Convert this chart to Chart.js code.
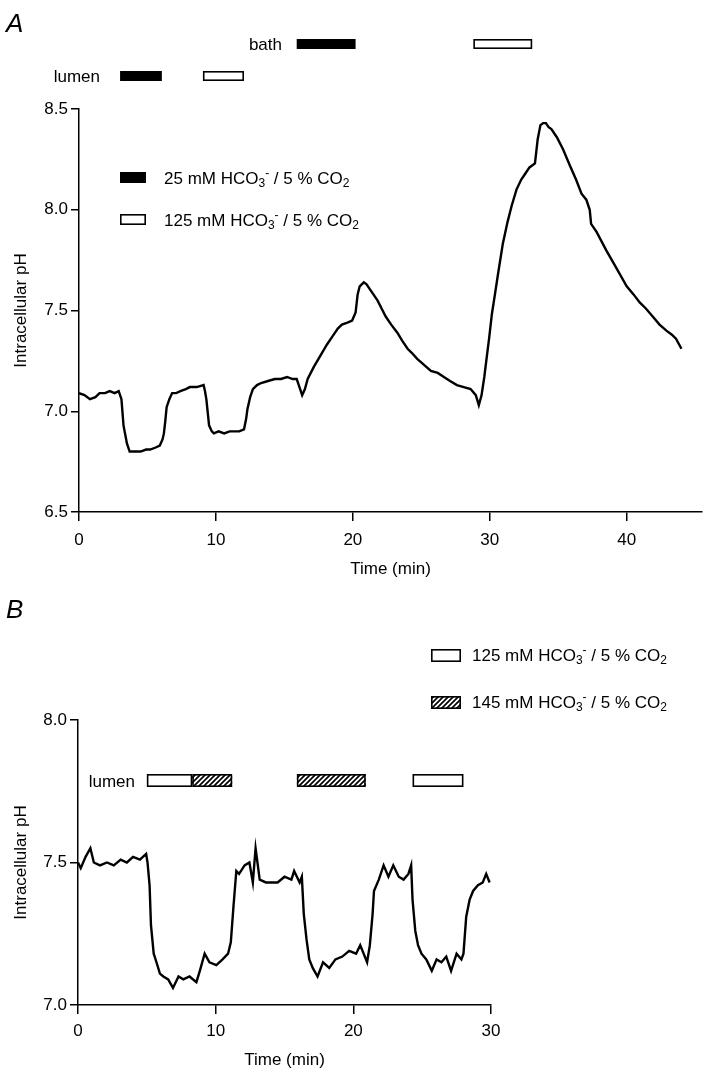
<!DOCTYPE html>
<html lang="en">
<head>
  <meta charset="UTF-8">
  <title>Intracellular pH</title>
  <script src="https://cdn.jsdelivr.net/npm/chart.js"></script>
  <style>
    body { margin: 0; background: #fff; }
    canvas { display: block; }
  </style>
</head>
<body>
  <canvas id="panelA" width="706" height="590"></canvas>
  <canvas id="panelB" width="706" height="489"></canvas>

  <script>
    // Panel A: trace (min, pH)
    const timeA = [0, 0.4, 0.8, 1.2, 1.5, 1.9, 2.25, 2.6, 2.9, 3.1, 3.25, 3.5, 3.7, 4.1, 4.5, 4.9, 5.2, 5.6, 5.9, 6.1,
      6.2, 6.3, 6.4, 6.6, 6.8, 7.1, 7.4, 7.8, 8.1, 8.6, 9.1, 9.2, 9.3, 9.5, 9.7, 9.85, 10.2, 10.6, 11.0, 11.3,
      11.7, 12.05, 12.2, 12.3, 12.5, 12.7, 13.0, 13.3, 13.8, 14.3, 14.75, 15.2, 15.6, 15.9, 16.1, 16.3, 16.5, 16.7, 17.15, 17.75,
      18.1, 18.5, 18.9, 19.2, 19.6, 19.95, 20.2, 20.35, 20.5, 20.8, 21.0, 21.3, 21.8, 22.1, 22.4, 22.8, 23.25, 23.6, 24.0, 24.3,
      24.7, 25.2, 25.7, 26.2, 26.65, 27.1, 27.6, 28.1, 28.6, 28.98, 29.2, 29.4, 29.6, 29.8, 29.95, 30.15, 30.4, 30.6, 30.95, 31.3,
      31.6, 31.95, 32.3, 32.6, 32.9, 33.3, 33.5, 33.7, 33.9, 34.1, 34.3, 34.5, 34.9, 35.35, 35.85, 36.3, 36.7, 37.05, 37.3, 37.4,
      37.8, 38.5, 39.25, 40.0, 40.5, 40.95, 41.4, 41.9, 42.4, 42.9, 43.3, 43.6, 44.0];
    const phA = [7.09, 7.08, 7.06, 7.07, 7.09, 7.09, 7.10, 7.09, 7.10, 7.06, 6.93, 6.84, 6.80, 6.80, 6.80, 6.81, 6.81, 6.82, 6.83, 6.86,
      6.89, 6.95, 7.02, 7.06, 7.09, 7.09, 7.10, 7.11, 7.12, 7.12, 7.13, 7.10, 7.06, 6.93, 6.90, 6.89, 6.90, 6.89, 6.90, 6.90,
      6.90, 6.91, 6.96, 7.01, 7.07, 7.11, 7.13, 7.14, 7.15, 7.16, 7.16, 7.17, 7.16, 7.16, 7.12, 7.08, 7.11, 7.16, 7.22, 7.29,
      7.33, 7.37, 7.41, 7.43, 7.44, 7.45, 7.49, 7.58, 7.62, 7.64, 7.63, 7.60, 7.55, 7.51, 7.47, 7.43, 7.39, 7.35, 7.31, 7.29,
      7.26, 7.23, 7.20, 7.19, 7.17, 7.15, 7.13, 7.12, 7.11, 7.08, 7.03, 7.08, 7.17, 7.28, 7.36, 7.48, 7.59, 7.68, 7.83, 7.94,
      8.02, 8.10, 8.15, 8.18, 8.21, 8.23, 8.35, 8.42, 8.43, 8.43, 8.41, 8.40, 8.36, 8.30, 8.22, 8.15, 8.08, 8.05, 8.00, 7.93,
      7.89, 7.80, 7.71, 7.62, 7.58, 7.54, 7.51, 7.47, 7.43, 7.40, 7.38, 7.36, 7.31];

    // Panel B: trace (min, pH)
    const timeB = [0, 0.2, 0.55, 0.9, 1.15, 1.6, 2.1, 2.6, 3.1, 3.55, 4.0, 4.5, 4.95, 5.05, 5.2, 5.3, 5.5, 5.7, 5.95, 6.2,
      6.55, 6.9, 7.3, 7.65, 8.1, 8.6, 8.85, 9.2, 9.55, 10.05, 10.5, 10.9, 11.1, 11.3, 11.5, 11.7, 12.1, 12.45, 12.7, 12.9,
      13.2, 13.65, 14.1, 14.5, 15.0, 15.5, 15.7, 16.1, 16.26, 16.4, 16.6, 16.8, 17.05, 17.4, 17.8, 18.25, 18.7, 19.2, 19.7, 20.2,
      20.5, 21.0, 21.2, 21.4, 21.5, 21.85, 22.2, 22.55, 22.9, 23.3, 23.65, 24.0, 24.2, 24.3, 24.5, 24.7, 24.95, 25.3, 25.7, 26.05,
      26.4, 26.75, 27.1, 27.5, 27.85, 28.0, 28.2, 28.45, 28.7, 29.05, 29.4, 29.65, 29.9];
    const phB = [7.50, 7.48, 7.52, 7.55, 7.50, 7.49, 7.50, 7.49, 7.51, 7.50, 7.52, 7.51, 7.53, 7.50, 7.42, 7.28, 7.18, 7.15, 7.11, 7.10,
      7.09, 7.06, 7.10, 7.09, 7.10, 7.08, 7.12, 7.18, 7.15, 7.14, 7.16, 7.18, 7.22, 7.35, 7.47, 7.46, 7.49, 7.50, 7.43, 7.55,
      7.44, 7.43, 7.43, 7.43, 7.45, 7.44, 7.47, 7.43, 7.45, 7.32, 7.23, 7.16, 7.13, 7.10, 7.15, 7.13, 7.16, 7.17, 7.19, 7.18,
      7.21, 7.15, 7.21, 7.32, 7.40, 7.44, 7.49, 7.45, 7.49, 7.45, 7.44, 7.46, 7.49, 7.37, 7.26, 7.21, 7.18, 7.16, 7.12, 7.16,
      7.15, 7.17, 7.12, 7.18, 7.16, 7.18, 7.31, 7.37, 7.40, 7.42, 7.43, 7.46, 7.43];

    // Tick values
    const xTicksA = [0, 10, 20, 30, 40];
    const yTicksA = [6.5, 7.0, 7.5, 8.0, 8.5];
    const xTicksB = [0, 10, 20, 30];
    const yTicksB = [7.0, 7.5, 8.0];

    // Solution changes: [start min, end min, fill]
    const bathPeriodsA = [[15.9, 20.2, 'black'], [28.8, 33.1, 'white']];
    const lumenPeriodsA = [[3.0, 6.05, 'black'], [9.05, 12.05, 'white']];
    const lumenPeriodsB = [[5.0, 8.3, 'white'], [8.3, 11.2, 'hatch'], [15.9, 20.9, 'hatch'], [24.3, 28.0, 'white']];

    // Legend entries: [concentration, fill]
    const legendA = [['25', 'black'], ['125', 'white']];
    const legendB = [['125', 'white'], ['145', 'hatch']];

    const FONT = '"Liberation Sans", Arial, sans-serif';
    Chart.defaults.font.family = FONT;
    Chart.defaults.font.size = 17;
    Chart.defaults.color = '#000';

    function hatchPattern(ctx) {
      const c = document.createElement('canvas');
      c.width = 5; c.height = 5;
      const p = c.getContext('2d');
      p.fillStyle = '#fff';
      p.fillRect(0, 0, 5, 5);
      p.strokeStyle = '#000';
      p.lineWidth = 1.7;
      p.beginPath();
      p.moveTo(-1, 6); p.lineTo(6, -1);
      p.moveTo(-1, 1); p.lineTo(1, -1);
      p.moveTo(4, 6); p.lineTo(6, 4);
      p.stroke();
      return ctx.createPattern(c, 'repeat');
    }

    function drawBox(ctx, x0, y0, w, h, kind) {
      if (kind === 'black') {
        ctx.fillStyle = '#000';
        ctx.fillRect(x0, y0, w, h);
        return;
      }
      ctx.fillStyle = kind === 'hatch' ? hatchPattern(ctx) : '#fff';
      ctx.fillRect(x0, y0, w, h);
      ctx.strokeStyle = '#000';
      ctx.lineWidth = 1.6;
      ctx.strokeRect(x0 + 0.8, y0 + 0.8, w - 1.6, h - 1.6);
    }

    function drawPeriods(ctx, xScale, periods, top, h) {
      periods.forEach(([t0, t1, kind]) => {
        const x0 = xScale.getPixelForValue(t0);
        const x1 = xScale.getPixelForValue(t1);
        drawBox(ctx, x0, top, x1 - x0, h, kind);
      });
    }

    // "xx mM HCO3- / 5 % CO2" with sub/superscripts
    function drawHco3(ctx, conc, x, baseline) {
      const parts = [
        [conc + ' mM HCO', 0, 17],
        ['3', 3, 12],
        ['-', -7, 12],
        [' / 5 % CO', 0, 17],
        ['2', 3, 12]
      ];
      ctx.textAlign = 'left';
      ctx.textBaseline = 'alphabetic';
      ctx.fillStyle = '#000';
      parts.forEach(([txt, dy, size]) => {
        ctx.font = size + 'px ' + FONT;
        ctx.fillText(txt, x, baseline + dy);
        x += ctx.measureText(txt).width;
      });
    }

    const extrasA = {
      id: 'extrasA',
      afterDraw(chart) {
        const { ctx, scales: { x } } = chart;
        ctx.save();
        ctx.fillStyle = '#000';
        ctx.textBaseline = 'alphabetic';
        ctx.font = 'italic 26px ' + FONT;
        ctx.fillText('A', 6, 32);
        ctx.font = '17px ' + FONT;
        ctx.textAlign = 'right';
        ctx.fillText('bath', 282, 50);
        ctx.fillText('lumen', 100, 82);
        drawPeriods(ctx, x, bathPeriodsA, 39, 10);
        drawPeriods(ctx, x, lumenPeriodsA, 71, 10);
        // legend
        legendA.forEach(([conc, kind], i) => {
          const y = 172 + i * 42;
          drawBox(ctx, 120, y, 26, 11, kind);
          drawHco3(ctx, conc, 164, y + 12);
        });
        ctx.restore();
      }
    };

    const extrasB = {
      id: 'extrasB',
      afterDraw(chart) {
        const { ctx, scales: { x } } = chart;
        ctx.save();
        ctx.fillStyle = '#000';
        ctx.textBaseline = 'alphabetic';
        ctx.font = 'italic 26px ' + FONT;
        ctx.fillText('B', 6, 28);
        ctx.font = '17px ' + FONT;
        ctx.textAlign = 'right';
        ctx.fillText('lumen', 135, 197);
        drawPeriods(ctx, x, lumenPeriodsB, 184, 13);
        legendB.forEach(([conc, kind], i) => {
          const y = 59 + i * 47;
          drawBox(ctx, 431, y, 30, 13, kind);
          drawHco3(ctx, conc, 472, y + 12);
        });
        ctx.restore();
      }
    };

    function makeChart(id, times, values, cfg, plugin) {
      return new Chart(document.getElementById(id).getContext('2d'), {
        type: 'line',
        data: {
          datasets: [{
            data: times.map((t, i) => ({ x: t, y: values[i] })),
            borderColor: '#000',
            borderWidth: 2.4,
            pointRadius: 0,
            tension: 0,
            fill: false
          }]
        },
        options: {
          responsive: false,
          animation: false,
          layout: { padding: cfg.padding },
          plugins: { legend: { display: false }, tooltip: { enabled: false } },
          scales: {
            x: {
              type: 'linear',
              min: 0,
              max: cfg.xMax,
              afterBuildTicks: axis => { axis.ticks = cfg.xTicks.map(v => ({ value: v })); },
              afterFit: axis => { axis.height = cfg.xHeight; },
              ticks: { padding: cfg.xTickPad, maxRotation: 0, autoSkip: false },
              grid: { drawOnChartArea: false, drawTicks: true, tickLength: 9, color: '#000', lineWidth: 1.5 },
              border: { color: '#000', width: 1.5 },
              title: { display: true, text: 'Time (min)', padding: { top: 0, bottom: cfg.xTitlePad } }
            },
            y: {
              min: cfg.yMin,
              max: cfg.yMax,
              afterBuildTicks: axis => { axis.ticks = cfg.yTicks.map(v => ({ value: v })); },
              afterFit: axis => { axis.width = cfg.yWidth; },
              ticks: { padding: 3, callback: v => v.toFixed(1) },
              grid: { drawOnChartArea: false, drawTicks: true, tickLength: 8, color: '#000', lineWidth: 1.5 },
              border: { color: '#000', width: 1.5 },
              title: { display: true, text: 'Intracellular pH', padding: { top: 11, bottom: 0 } }
            }
          }
        },
        plugins: [plugin]
      });
    }

    makeChart('panelA', timeA, phA, {
      padding: { left: 0, top: 109, right: 4, bottom: 0 },
      xMax: 45.5, xTicks: xTicksA, yMin: 6.5, yMax: 8.5, yTicks: yTicksA,
      yWidth: 79, xHeight: 78, xTickPad: 9, xTitlePad: 10
    }, extrasA);

    makeChart('panelB', timeB, phB, {
      padding: { left: 0, top: 130, right: 215, bottom: 0 },
      xMax: 30, xTicks: xTicksB, yMin: 7.0, yMax: 8.0, yTicks: yTicksB,
      yWidth: 78, xHeight: 74, xTickPad: 7, xTitlePad: 8
    }, extrasB);
  </script>
</body>
</html>
